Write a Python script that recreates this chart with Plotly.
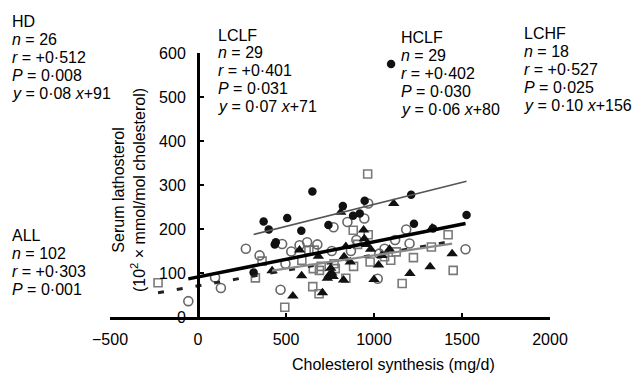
import plotly.graph_objects as go

# ---------------- data ----------------
# HD group: open circles
hd_x = [-55, 97, 130, 272, 350, 469, 478, 497, 530, 577, 620, 678, 760, 770, 849, 869, 900,
        945, 967, 1021, 1030, 1060, 1120, 1183, 1202, 1520]
hd_y = [36, 90, 66, 155, 140, 62, 166, 121, 149, 163, 170, 165, 150, 204, 216, 150, 175,
        224, 258, 87, 144, 155, 175, 199, 167, 154]
hd_fit = (0.08, 91)

# LCLF group: open squares (grey)
lclf_x = [-227, 326, 364, 493, 590, 630, 652, 655, 660, 688, 690, 700, 773, 780, 840, 882, 884,
          907, 964, 967, 978, 1060, 1095, 1126, 1160, 1224, 1326, 1421, 1450]
lclf_y = [78, 89, 127, 22, 129, 152, 69, 110, 152, 53, 106, 115, 121, 110, 88, 197, 115,
          165, 325, 187, 125, 137, 129, 148, 76, 135, 159, 187, 106]
lclf_fit = (0.07, 71)

# HCLF group: filled triangles
hclf_x = [421, 539, 577, 589, 684, 707, 735, 745, 754, 760, 768, 811, 827, 830, 840, 865, 941,
          945, 958, 981, 1000, 1026, 1045, 1088, 1112, 1204, 1319, 1330, 1444]
hclf_y = [105, 48, 152, 94, 138, 55, 88, 95, 111, 100, 92, 238, 84, 137, 160, 125, 198,
          178, 165, 154, 85, 118, 140, 154, 258, 99, 114, 202, 144]
hclf_fit = (0.06, 80)

# LCHF group: filled circles
lchf_x = [316, 373, 402, 436, 442, 507, 587, 650, 741, 823, 881, 919, 947, 1097, 1211, 1227,
          1335, 1526]
lchf_y = [101, 217, 199, 165, 170, 225, 196, 285, 209, 252, 230, 235, 264, 575, 278, 212,
          201, 232]
lchf_fit = (0.10, 156)

x_ticks = [-500, 0, 500, 1000, 1500, 2000]
y_ticks = [0, 100, 200, 300, 400, 500, 600]

stats_hd = ["HD", "<i>n</i> = 26", "<i>r</i> = +0·512", "<i>P</i> = 0·008", "<i>y</i> = 0·08 <i>x</i>+91"]
stats_lclf = ["LCLF", "<i>n</i> = 29", "<i>r</i> = +0·401", "<i>P</i> = 0·031", "<i>y</i> = 0·07 <i>x</i>+71"]
stats_hclf = ["HCLF", "<i>n</i> = 29", "<i>r</i> = +0·402", "<i>P</i> = 0·030", "<i>y</i> = 0·06 <i>x</i>+80"]
stats_lchf = ["LCHF", "<i>n</i> = 18", "<i>r</i> = +0·527", "<i>P</i> = 0·025", "<i>y</i> = 0·10 <i>x</i>+156"]
stats_all = ["ALL", "<i>n</i> = 102", "<i>r</i> = +0·303", "<i>P</i> = 0·001"]

# ---------------- layout helpers ----------------
W, H = 637, 373
L, R, T, B = 110, 550, 53, 317
FONT = "Liberation Sans, Arial, sans-serif"


def pxx(p):
    return (p - L) / (R - L)


def pxy(p):
    return (B - p) / (B - T)


def fit_line(xs, fit):
    x0, x1 = min(xs), max(xs)
    return [x0, x1], [fit[0] * x0 + fit[1], fit[0] * x1 + fit[1]]


fig = go.Figure()

# markers
fig.add_trace(go.Scatter(x=lclf_x, y=lclf_y, mode="markers",
                         marker=dict(symbol="square-open", size=8, color="#7a7a7a",
                                     line=dict(width=1.6, color="#7a7a7a"))))
fig.add_trace(go.Scatter(x=hd_x, y=hd_y, mode="markers",
                         marker=dict(symbol="circle-open", size=9, color="#666666",
                                     line=dict(width=1.6, color="#666666"))))
fig.add_trace(go.Scatter(x=hclf_x, y=hclf_y, mode="markers",
                         marker=dict(symbol="triangle-up", size=10, color="#111111")))
fig.add_trace(go.Scatter(x=lchf_x, y=lchf_y, mode="markers",
                         marker=dict(symbol="circle", size=8.5, color="#111111")))

# regression lines
lx, ly = fit_line(lclf_x, lclf_fit)
fig.add_trace(go.Scatter(x=lx, y=ly, mode="lines",
                         line=dict(color="#222222", width=3, dash="6px,13px")))
lx, ly = fit_line(hclf_x, hclf_fit)
fig.add_trace(go.Scatter(x=lx, y=ly, mode="lines", line=dict(color="#8a8a8a", width=2.2)))
lx, ly = fit_line(lchf_x, lchf_fit)
fig.add_trace(go.Scatter(x=lx, y=ly, mode="lines", line=dict(color="#555555", width=1.5)))
lx, ly = fit_line(hd_x, hd_fit)
fig.add_trace(go.Scatter(x=lx, y=ly, mode="lines", line=dict(color="#000000", width=3.5)))

annotations = []


def add_block(lines, left, y0, step=17.9):
    for i, t in enumerate(lines):
        annotations.append(dict(text=t, xref="paper", yref="paper", x=pxx(left), y=pxy(y0 + i * step),
                                xanchor="left", yanchor="middle", showarrow=False,
                                font=dict(family=FONT, size=16, color="#000")))


add_block(stats_hd, 10, 21.5)
add_block(stats_lclf, 216, 35)
add_block(stats_hclf, 399, 38)
add_block(stats_lchf, 522, 33.5)
add_block(stats_all, 10, 236)

# axis titles
annotations.append(dict(text="Cholesterol synthesis (mg/d)", xref="paper", yref="paper",
                        x=pxx(393), y=pxy(364), xanchor="center", yanchor="middle",
                        showarrow=False, font=dict(family=FONT, size=16, color="#000")))
annotations.append(dict(text="Serum lathosterol<br>(10<sup>2</sup> × mmol/mol cholesterol)",
                        xref="paper", yref="paper", x=pxx(129), y=pxy(190),
                        xanchor="center", yanchor="middle", textangle=-90,
                        showarrow=False, font=dict(family=FONT, size=16, color="#000")))

fig.update_layout(
    width=W, height=H,
    margin=dict(l=L, r=W - R, t=T, b=H - B, pad=0, autoexpand=False),
    paper_bgcolor="white", plot_bgcolor="white",
    showlegend=False,
    font=dict(family=FONT, size=16, color="#000"),
    annotations=annotations,
    xaxis=dict(range=[-500, 2000], tickvals=x_ticks, showgrid=False, zeroline=False,
               automargin=False,
               showline=True, linewidth=3, linecolor="#000", ticks="inside", ticklen=4,
               tickwidth=2, tickcolor="#000", ticklabelstandoff=6,
               tickfont=dict(family=FONT, size=16, color="#000")),
    yaxis=dict(range=[0, 600], tickvals=y_ticks, showgrid=False, zeroline=False,
               anchor="free", position=0.2, automargin=False,
               showline=True, linewidth=3, linecolor="#000", ticks="inside", ticklen=4,
               tickwidth=2, tickcolor="#000", ticklabelstandoff=8,
               tickfont=dict(family=FONT, size=16, color="#000")),
)

fig.write_html("out.html", config={"displayModeBar": False},
               post_script="document.body.style.margin='0';document.body.style.overflow='hidden';")
